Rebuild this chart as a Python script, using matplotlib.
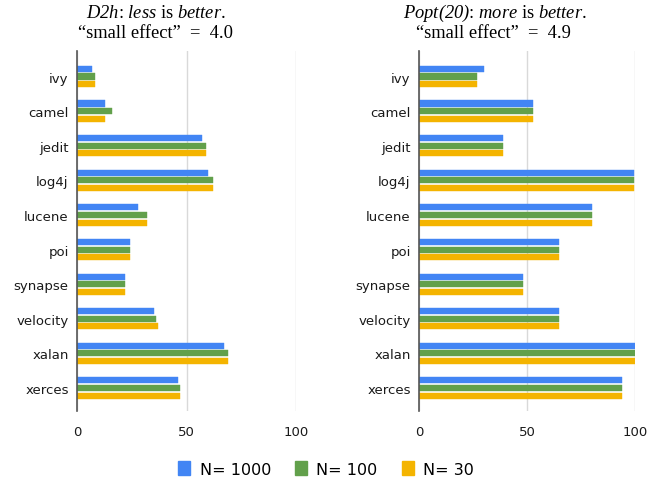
import matplotlib
matplotlib.use("Agg")
import matplotlib.pyplot as plt
import numpy as np
from matplotlib.patches import Patch

categories = ["ivy", "camel", "jedit", "log4j", "lucene", "poi", "synapse", "velocity", "xalan", "xerces"]
series_names = ["N= 1000", "N= 100", "N= 30"]
d2h_1000 = [7, 13, 57, 60, 28, 24, 22, 35, 67, 46]
d2h_100 = [8, 16, 59, 62, 32, 24, 22, 36, 69, 47]
d2h_30 = [8, 13, 59, 62, 32, 24, 22, 37, 69, 47]
popt_1000 = [30, 53, 39, 99.5, 80, 65, 48, 65, 100, 94]
popt_100 = [27, 53, 39, 99.5, 80, 65, 48, 65, 100, 94]
popt_30 = [27, 53, 39, 99.5, 80, 65, 48, 65, 100, 94]
x_ticks = [0, 50, 100]
colors = ["#4285F4", "#62A04B", "#F4B400"]

plt.rcParams["mathtext.fontset"] = "custom"
plt.rcParams["mathtext.rm"] = "Liberation Serif"
plt.rcParams["mathtext.it"] = "Liberation Serif:italic"
plt.rcParams["mathtext.sf"] = "Liberation Serif:italic"

W, H = 668, 485
fig = plt.figure(figsize=(W / 100, H / 100), dpi=100)

def axes_px(x0, y0, x1, y1):
    return fig.add_axes([x0 / W, 1 - y1 / H, (x1 - x0) / W, (y1 - y0) / H])

def draw(ax, s1, s2, s3):
    y = np.arange(len(categories))
    off = 0.22
    h = 0.175
    for i, (vals, c) in enumerate(zip([s1, s2, s3], colors)):
        ax.barh(y + (i - 1) * off, vals, height=h, color=c, zorder=3,
                edgecolor=c, linewidth=0.3, joinstyle="round")
    ax.set_xlim(0, 100)
    ax.set_ylim(9.665, -0.737)
    ax.set_yticks(y)
    ax.set_yticklabels(categories, fontsize=9.5, color="#1a1a1a")
    ax.set_xticks(x_ticks)
    ax.set_xticklabels([str(t) for t in x_ticks], fontsize=9.5, color="#1a1a1a")
    ax.tick_params(length=0, pad=6)
    ax.tick_params(axis="x", pad=10)
    for s in ["top", "right", "bottom"]:
        ax.spines[s].set_visible(False)
    ax.spines["left"].set_color("#555555")
    ax.spines["left"].set_linewidth(1.2)
    ax.spines["left"].set_zorder(4)
    ax.grid(axis="x", color="#d9d9d9", linewidth=1.0, zorder=0)
    ax.set_axisbelow(True)

ax1 = axes_px(77, 52, 296, 412)
draw(ax1, d2h_1000, d2h_100, d2h_30)
ax2 = axes_px(419, 52, 635, 412)
draw(ax2, popt_1000, popt_100, popt_30)

tfs = 13.3
fig.text(156 / W, 1 - 13 / H, r"$\mathsf{D2h}$: $\mathsf{less}$ is $\mathsf{better}$.",
         ha="center", va="center", fontsize=tfs, family="Liberation Serif")
fig.text(156 / W, 1 - 33 / H, "\u201csmall effect\u201d  =  4.0",
         ha="center", va="center", fontsize=tfs, family="Liberation Serif")
fig.text(495 / W, 1 - 13 / H, r"$\mathsf{Popt(20)}$: $\mathsf{more}$ is $\mathsf{better}$.",
         ha="center", va="center", fontsize=tfs, family="Liberation Serif")
fig.text(493 / W, 1 - 33 / H, "\u201csmall effect\u201d  =  4.9",
         ha="center", va="center", fontsize=tfs, family="Liberation Serif")

handles = [Patch(facecolor=c, edgecolor=c) for c in colors]
fig.legend(handles, series_names, loc="center", bbox_to_anchor=(326 / W, 1 - 470 / H),
           ncol=3, frameon=False, fontsize=11.5, handlelength=0.75, handleheight=0.9,
           handletextpad=0.6, columnspacing=1.5)

fig.savefig("out.png", dpi=100)
